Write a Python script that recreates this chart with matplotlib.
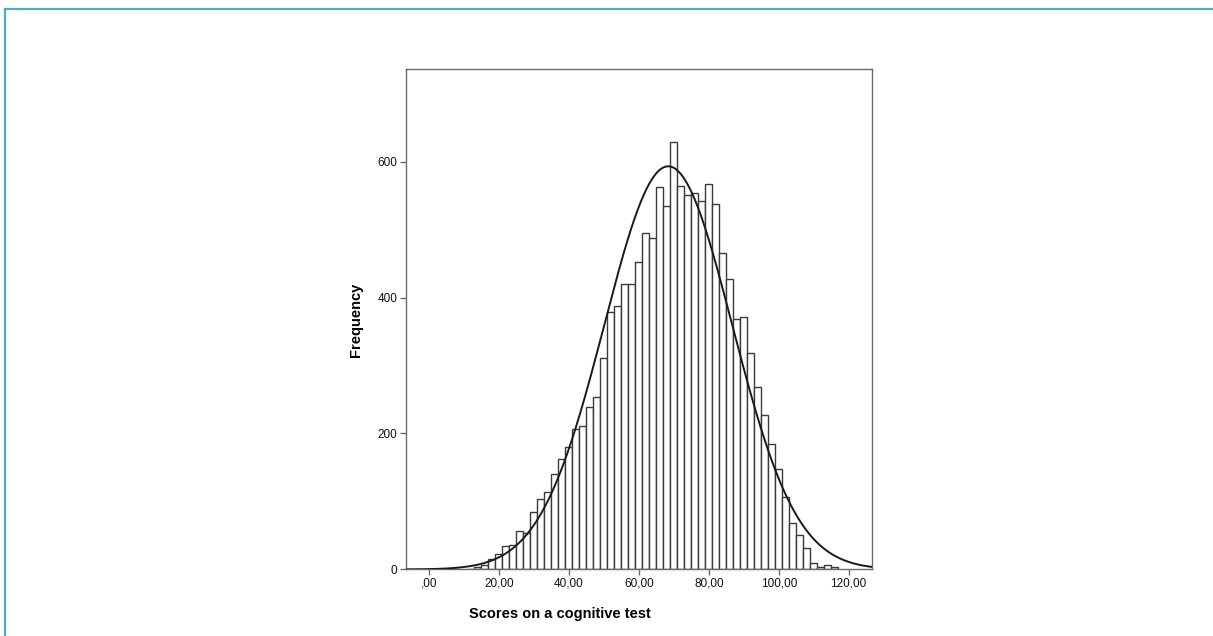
import matplotlib
matplotlib.use("Agg")
import matplotlib.pyplot as plt
import numpy as np
from matplotlib.lines import Line2D

plt.rcParams["font.family"] = ["Liberation Sans", "DejaVu Sans"]
EDGE = "#3a3a3a"
FRAME = "#6b6b6b"

# histogram: bins of width 2 starting at 10.9
bin_start = 10.9
bin_width = 2.0
counts = [1, 3, 7, 15, 23, 34, 36, 56, 53, 84,
          103, 114, 140, 163, 180, 207, 211, 239, 254, 311,
          378, 388, 420, 420, 452, 495, 488, 562, 535, 628,
          564, 551, 553, 542, 567, 538, 466, 427, 369, 371,
          318, 268, 227, 184, 148, 106, 68, 50, 31, 10,
          4, 6, 4]

# normal curve overlay
curve_mean = 68.4
curve_sd = 18.3
curve_n = 13600

x_ticks = [0, 20, 40, 60, 80, 100, 120]
x_tick_labels = [",00", "20,00", "40,00", "60,00", "80,00", "100,00", "120,00"]
y_ticks = [0, 200, 400, 600]

fig = plt.figure(figsize=(12.13, 6.36), dpi=100)
ax = fig.add_axes([0.3343, 0.1046, 0.7191 - 0.3343, 0.891 - 0.1046])

lefts = bin_start + bin_width * np.arange(len(counts))
ax.bar(lefts, counts, width=bin_width, align="edge", color="white",
       edgecolor=EDGE, linewidth=1.0, zorder=2)

xs = np.linspace(-8, 128, 600)
pdf = np.exp(-0.5 * ((xs - curve_mean) / curve_sd) ** 2) / (curve_sd * np.sqrt(2 * np.pi))
ax.plot(xs, pdf * curve_n * bin_width, color="#1a1a1a", linewidth=1.4, zorder=3)

ax.set_xlim(-6.75, 126.75)
ax.set_ylim(0, 735.6)
ax.set_xticks(x_ticks)
ax.set_xticklabels(x_tick_labels)
ax.set_yticks(y_ticks)
ax.tick_params(direction="out", length=4, width=1.0, color=FRAME,
               labelsize=8.5, labelcolor="#111111", pad=2)
for s in ax.spines.values():
    s.set_color(FRAME)
    s.set_linewidth(1.0)

ax.set_xlabel("Scores on a cognitive test", fontsize=10.5, fontweight="bold")
ax.set_ylabel("Frequency", fontsize=10.5, fontweight="bold")
ax.xaxis.set_label_coords(0.331, -0.075)
ax.yaxis.set_label_coords(-0.091, 0.5)

# accent border along top and left edges
teal = "#4BACC6"
fig.add_artist(Line2D([4.5 / 1213, 1.0], [1 - 8.5 / 636] * 2, color=teal,
                      linewidth=1.6, transform=fig.transFigure))
fig.add_artist(Line2D([4.5 / 1213] * 2, [0.0, 1 - 8.5 / 636], color=teal,
                      linewidth=1.6, transform=fig.transFigure))

fig.savefig("out.png", dpi=100, facecolor="white")
